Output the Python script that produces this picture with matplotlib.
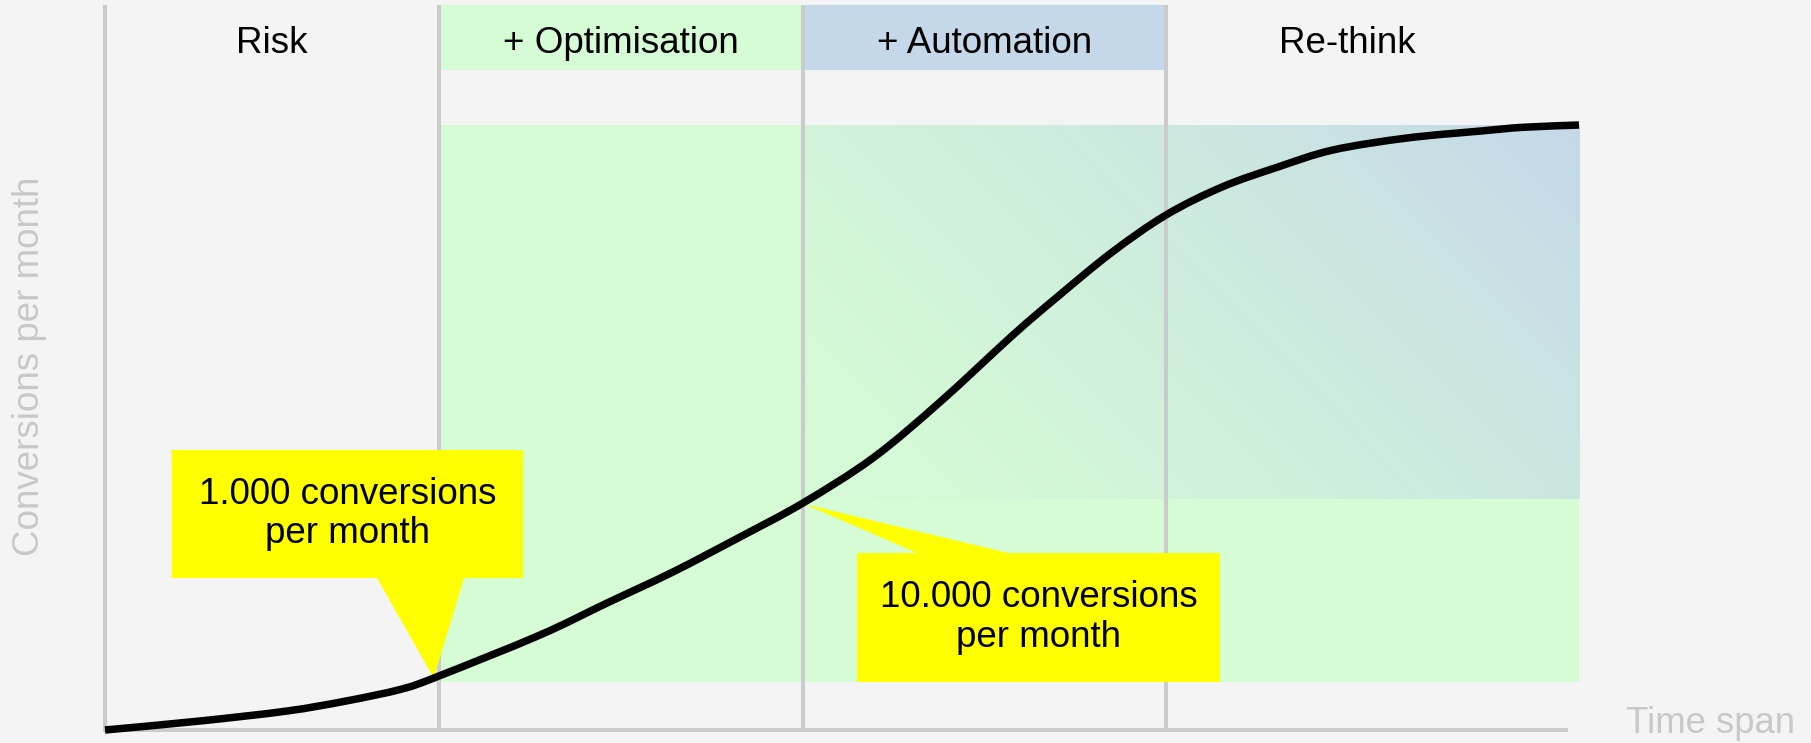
import numpy as np
import matplotlib
matplotlib.use("Agg")
import matplotlib.pyplot as plt
from matplotlib.patches import Polygon, Rectangle, PathPatch
from matplotlib.path import Path

# Growth curve: time span (0-100) against a conversions index (0-100)
time_span = [0, 6.45, 12.35, 16.35, 20.15, 22.66, 29.51, 34.06, 38.53, 43.08,
             47.35, 52.10, 56.65, 61.60, 64.52, 68.25, 71.98, 75.78, 79.58,
             83.31, 88.33, 93.35, 96.20, 100]
conversions = [0, 1.49, 3.14, 4.79, 6.78, 8.93, 15.70, 20.99, 26.12, 31.90,
               37.52, 44.96, 54.21, 65.29, 71.40, 78.84, 85.12, 89.75, 93.06,
               95.87, 97.85, 99.01, 99.62, 100]

# Phases of the journey
phase_names = ["Risk", "+ Optimisation", "+ Automation", "Re-think"]
phase_edges = [0, 22.66, 47.35, 71.98, 96.6]

# Milestones marked with callouts
milestone_labels = ["1.000 conversions\nper month", "10.000 conversions\nper month"]
milestone_time = [22.3, 47.5]
milestone_conv = [8.6, 37.3]

# ---- styling ----
BG = "#F4F4F4"
GREEN = "#D5FCD5"
BLUE = "#C5D8E9"
GRID = "#CBCBCB"
YELLOW = "#FFFF00"
MUTED = "#C8C8C8"
FONT = ["Liberation Sans", "DejaVu Sans"]

W, H = 1811, 743
fig = plt.figure(figsize=(W / 100, H / 100), dpi=100, facecolor=BG)
ax = fig.add_axes([105 / W, 13 / H, 1474 / W, 605 / H])
ax.set_facecolor(BG)
ax.axis("off")

TOP = 119.83        # top of the phase dividers
HEAD_LOW = 109.09   # bottom of the header bands

# plain green area behind the optimisation / automation stages
ax.add_patch(Rectangle((phase_edges[1], 7.93), 100 - phase_edges[1], 100 - 7.93,
                       facecolor=GREEN, edgecolor="none", zorder=1))

# green-to-blue blend for the later stages
g = np.array(matplotlib.colors.to_rgb(GREEN))
b = np.array(matplotlib.colors.to_rgb(BLUE))
nx, ny = 400, 200
u = np.linspace(0, 1, nx)[None, :]
v = np.linspace(1, 0, ny)[:, None]
t = np.clip(0.68 * u + 0.32 * v, 0, 1) ** 1.3
img = g[None, None, :] * (1 - t[..., None]) + b[None, None, :] * t[..., None]
ax.imshow(img, extent=(phase_edges[2], 100, 38.18, 100), aspect="auto",
          interpolation="bilinear", zorder=1.5)

# header bands
ax.add_patch(Rectangle((phase_edges[1], HEAD_LOW), phase_edges[2] - phase_edges[1],
                       TOP - HEAD_LOW, facecolor=GREEN, edgecolor="none",
                       clip_on=False, zorder=1))
ax.add_patch(Rectangle((phase_edges[2], HEAD_LOW), phase_edges[3] - phase_edges[2],
                       TOP - HEAD_LOW, facecolor=BLUE, edgecolor="none",
                       clip_on=False, zorder=1))

# dividers and base line
for x in phase_edges[:4]:
    ax.plot([x, x], [0, TOP], color=GRID, lw=2.9, solid_capstyle="butt",
            clip_on=False, zorder=2)
ax.plot([-0.15, 99.25], [0, 0], color=GRID, lw=2.9, solid_capstyle="butt",
        clip_on=False, zorder=2)

# phase titles
for i, name in enumerate(phase_names):
    xc = (phase_edges[i] + phase_edges[i + 1]) / 2
    ax.text(xc, 111.95, name, ha="center", va="baseline", fontsize=26.5,
            family=FONT, color="black", clip_on=False, zorder=4)

# callouts
boxes = [
    # x0, x1, y0, y1, wedge base start, wedge base end, wedge on top?
    (4.52, 28.36, 25.12, 46.28, 18.45, 24.36, False),
    (51.02, 75.64, 7.93, 29.26, 55.09, 61.26, True),
]
for (x0, x1, y0, y1, w0, w1, on_top), tx, ty, label in zip(
        boxes, milestone_time, milestone_conv, milestone_labels):
    if on_top:
        pts = [(x0, y0), (x0, y1), (w0, y1), (tx, ty), (w1, y1), (x1, y1), (x1, y0)]
    else:
        pts = [(x0, y1), (x1, y1), (x1, y0), (w1, y0), (tx, ty), (w0, y0), (x0, y0)]
    ax.add_patch(Polygon(pts, closed=True, facecolor=YELLOW, edgecolor="none",
                         clip_on=False, zorder=3))
    ax.text((x0 + x1) / 2, (y0 + y1) / 2, label, ha="center", va="center",
            multialignment="center", fontsize=26.5, family=FONT, color="black",
            linespacing=1.15, zorder=4)

# smooth growth curve through the points (Catmull-Rom as cubic Beziers)
P = np.column_stack([time_span, conversions]).astype(float)
Pe = np.vstack([P[0], P, P[-1]])
verts = [tuple(P[0])]
codes = [Path.MOVETO]
for i in range(1, len(Pe) - 2):
    p0, p1, p2, p3 = Pe[i - 1], Pe[i], Pe[i + 1], Pe[i + 2]
    c1 = p1 + (p2 - p0) / 6
    c2 = p2 - (p3 - p1) / 6
    verts += [tuple(c1), tuple(c2), tuple(p2)]
    codes += [Path.CURVE4] * 3
ax.add_patch(PathPatch(Path(verts, codes), fill=False, edgecolor="black", lw=5.4,
                       capstyle="butt", joinstyle="round", clip_on=False, zorder=5))

ax.set_xlim(0, 100)
ax.set_ylim(0, 100)

# axis captions
fig.text(30 / W, 1 - 366.5 / H, "Conversions per month", rotation=90,
         ha="center", va="center", fontsize=26.5, family=FONT, color=MUTED)
fig.text(1626 / W, 10 / H, "Time span", ha="left", va="baseline",
         fontsize=26.3, family=FONT, color=MUTED)

fig.savefig("out.png", dpi=100, facecolor=BG)
